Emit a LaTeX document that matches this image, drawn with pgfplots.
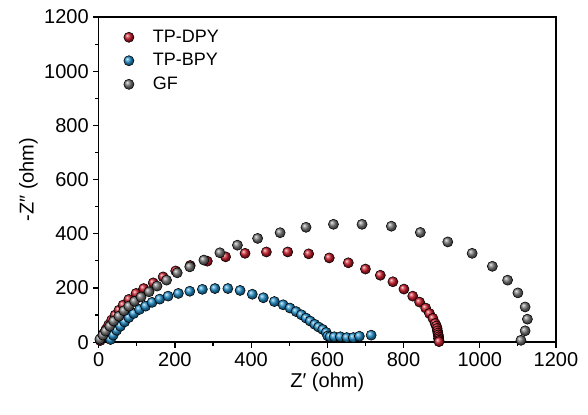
\documentclass[border=0pt]{standalone}
\usepackage{fontspec}
\setmainfont{Liberation Sans}
\usepackage{pgfplots}
\pgfplotsset{compat=1.18}
\definecolor{cred}{RGB}{200,25,40}
\definecolor{cblue}{RGB}{30,140,200}
\definecolor{cgray}{RGB}{115,115,115}
\begin{document}
\begin{tikzpicture}
\begin{axis}[
  scale only axis, width=342.75pt, height=243.75pt,
  xmin=0, xmax=1200, ymin=0, ymax=1200,
  xtick={0,200,...,1200}, ytick={0,200,...,1200},
  minor tick num=1,
  tick align=outside, xtick pos=bottom, ytick pos=left,
  major tick length=4pt, minor tick length=2.5pt,
  axis line style={line width=1.1pt},
  every tick/.style={line width=0.9pt, black},
  tick label style={font=\fontsize{15}{18}\selectfont},
  label style={font=\fontsize{15}{18}\selectfont},
  /pgf/number format/assume math mode=true,
  /pgf/number format/1000 sep={},
  xlabel={Z′ (ohm)}, ylabel={-Z″ (ohm)},
  xlabel style={yshift=2pt}, ylabel style={yshift=-2pt},
  legend style={draw=none, fill=none, at={(0.045,0.977)}, anchor=north west,
    font=\fontsize{13.5}{15}\selectfont, row sep=2.8pt, column sep=12pt},
  legend cell align=left,
]
\addplot[only marks, mark=ball, mark size=3.8pt, mark options={ball color=cred}] coordinates {
(4,6)(8,18)(13,32)(19,47)(26,64)(34,82)(43,100)(53,118)(64,137)(79,158)(98,180)(118,198)(143,219)(169,241)(202,263)(240,283)(285,299)(333,315)(384,328)(440,333)(496,333)(551,326)(605,311)(655,293)(700,270)(739,247)(772,223)(801,196)(824,170)(842,148)(858,126)(868,106)(877,88)(883,69)(886,60)(888,51)(889,42)(890,34)(891,27)(892,20)(892,13)(893,7)(893,2)
};
\addlegendentry{TP-DPY}
\addplot[only marks, mark=ball, mark size=3.8pt, mark options={ball color=cblue}] coordinates {
(31,10)(38,26)(47,44)(57,59)(68,75)(79,91)(92,106)(107,121)(123,133)(140,147)(160,159)(182,170)(209,180)(239,188)(272,195)(305,198)(339,198)(371,191)(403,177)(432,164)(461,150)(484,138)(502,126)(518,113)(532,101)(544,89)(555,78)(567,66)(577,56)(588,47)(597,36)(601,23)(607,20)(618,20)(634,20)(651,17)(668,17)(684,22)(715,26)
};
\addlegendentry{TP-BPY}
\addplot[only marks, mark=ball, mark size=3.8pt, mark options={ball color=cgray}] coordinates {
(3,11)(11,26)(18,41)(29,59)(39,78)(53,96)(66,116)(79,133)(94,151)(111,167)(132,186)(153,207)(178,229)(206,256)(239,278)(276,303)(318,330)(364,358)(417,383)(476,404)(544,424)(616,435)(691,435)(768,428)(844,405)(916,370)(980,328)(1033,280)(1073,229)(1100,182)(1119,130)(1125,85)(1119,42)(1108,7)
};
\addlegendentry{GF}
\end{axis}
\path (current axis.south west) ++(-74pt,-54pt);
\path (current axis.north east) ++(24pt,12.75pt);
\end{tikzpicture}
\end{document}
